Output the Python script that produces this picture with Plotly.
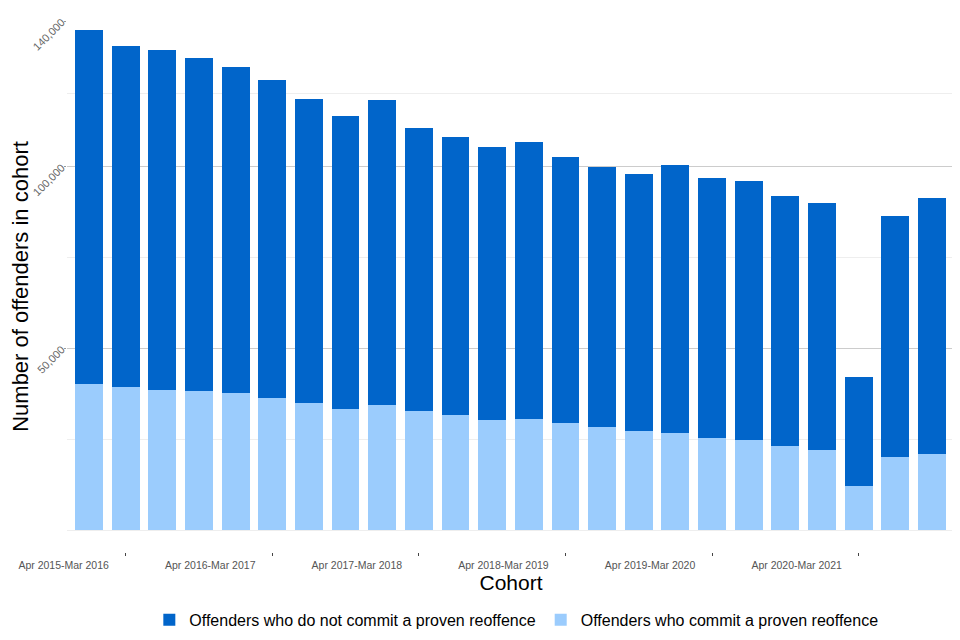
import plotly.graph_objects as go

cohorts = [
    "Apr-Jun 2015", "Jul-Sep 2015", "Oct-Dec 2015", "Jan-Mar 2016",
    "Apr-Jun 2016", "Jul-Sep 2016", "Oct-Dec 2016", "Jan-Mar 2017",
    "Apr-Jun 2017", "Jul-Sep 2017", "Oct-Dec 2017", "Jan-Mar 2018",
    "Apr-Jun 2018", "Jul-Sep 2018", "Oct-Dec 2018", "Jan-Mar 2019",
    "Apr-Jun 2019", "Jul-Sep 2019", "Oct-Dec 2019", "Jan-Mar 2020",
    "Apr-Jun 2020", "Jul-Sep 2020", "Oct-Dec 2020", "Jan-Mar 2021",
]

reoffenders = [40200, 39300, 38500, 38200, 37700, 36300, 34900, 33300,
               34400, 32700, 31600, 30300, 30500, 29400, 28300, 27200,
               26700, 25300, 24800, 23100, 22000, 12100, 20100, 20900]

non_reoffenders = [97400, 93800, 93500, 91600, 89700, 87500, 83600, 80600,
                   83900, 77800, 76500, 75100, 76200, 73200, 71500, 70700,
                   73700, 71500, 71200, 68800, 67900, 30000, 66300, 70400]

tick_cohorts = ["Jul-Sep 2015", "Jul-Sep 2016", "Jul-Sep 2017",
                "Jul-Sep 2018", "Jul-Sep 2019", "Jul-Sep 2020"]
tick_labels = ["Apr 2015-Mar 2016", "Apr 2016-Mar 2017", "Apr 2017-Mar 2018",
               "Apr 2018-Mar 2019", "Apr 2019-Mar 2020", "Apr 2020-Mar 2021"]

y_major = [50000, 100000, 140000]
y_minor = [0, 25000, 75000, 120000]

DARK = "#0165CA"
LIGHT = "#9BCCFD"
FONT = "Liberation Sans"

fig = go.Figure()
fig.add_trace(go.Bar(
    x=cohorts, y=reoffenders, name="Offenders who commit a proven reoffence",
    marker=dict(color=LIGHT, line=dict(width=0)), legendrank=2,
))
fig.add_trace(go.Bar(
    x=cohorts, y=non_reoffenders, name="Offenders who do not commit a proven reoffence",
    marker=dict(color=DARK, line=dict(width=0)), legendrank=1,
))

fig.update_layout(
    barmode="stack",
    bargap=0.24,
    width=960, height=640,
    margin=dict(l=59, r=13, t=13, b=96, autoexpand=False),
    paper_bgcolor="white", plot_bgcolor="white",
    font=dict(family=FONT, color="#000000"),
    legend=dict(
        orientation="h", x=0.506, xanchor="center", y=-0.0957, yanchor="top",
        font=dict(size=16, color="#000000"), traceorder="normal",
        itemwidth=30,
    ),
)

fig.update_xaxes(
    type="category", automargin=False,
    categoryorder="array", categoryarray=cohorts,
    range=[-0.6, 23.63],
    tickmode="array", tickvals=tick_cohorts, ticktext=tick_labels,
    ticks="outside", ticklen=3, tickwidth=1, tickcolor="#444444",
    ticklabelshift=-62, ticklabelstandoff=0,
    tickfont=dict(size=10.5, color="#555555"),
    showgrid=False, showline=False, zeroline=False,
    title=dict(text="Cohort", font=dict(size=21, color="#000000"), standoff=0),
)

fig.update_yaxes(
    range=[-6050, 140000], automargin=False,
    tickmode="array", tickvals=y_major,
    ticktext=[f"{v:,}" for v in y_major],
    tickangle=-45,
    ticks="outside", ticklen=2, tickcolor="#999999",
    tickfont=dict(size=11, color="#666666"),
    showgrid=True, gridcolor="#CCCCCC", gridwidth=1,
    minor=dict(tickmode="array", tickvals=y_minor, showgrid=True,
               gridcolor="#EEEEEE", gridwidth=1, ticks=""),
    zeroline=False, showline=False,
    title=dict(text="Number of offenders in cohort",
               font=dict(size=22, color="#000000"), standoff=0),
)

fig.write_html("out.html")
